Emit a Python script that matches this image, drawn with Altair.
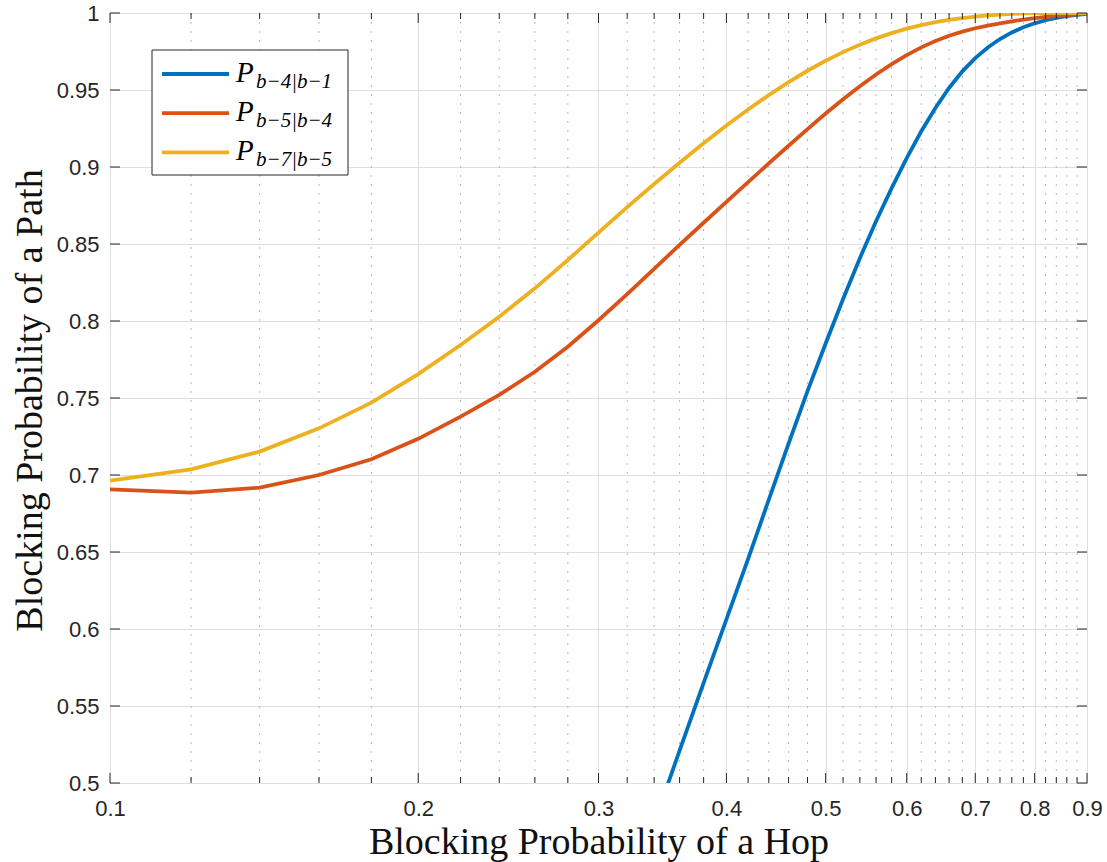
import altair as alt
import pandas as pd

# Hop blocking probability grid (step 0.02)
hop = [0.10, 0.12, 0.14, 0.16, 0.18, 0.20, 0.22, 0.24, 0.26, 0.28,
       0.30, 0.32, 0.34, 0.36, 0.38, 0.40, 0.42, 0.44, 0.46, 0.48,
       0.50, 0.52, 0.54, 0.56, 0.58, 0.60, 0.62, 0.64, 0.66, 0.68,
       0.70, 0.72, 0.74, 0.76, 0.78, 0.80, 0.82, 0.84, 0.86, 0.88, 0.90]

# P_{b-4|b-1}: only computed from 0.34 upward
hop_b4_b1 = hop[12:]
p_b4_b1 = [0.474, 0.521, 0.565, 0.6063, 0.6455, 0.684, 0.7204, 0.7544, 0.7854, 0.8143,
           0.8408, 0.8648, 0.8863, 0.9058, 0.9232, 0.9383, 0.9513, 0.9621, 0.9707, 0.9776,
           0.9831, 0.9874, 0.9907, 0.9933, 0.9953, 0.9968, 0.9979, 0.9988, 0.9995]

# P_{b-5|b-4}
p_b5_b4 = [0.6907, 0.6885, 0.6918, 0.7000, 0.7102, 0.7235, 0.7379, 0.7520, 0.7670, 0.7833,
           0.8005, 0.8174, 0.8339, 0.8494, 0.8638, 0.8774, 0.8902, 0.9023, 0.9138, 0.9246,
           0.9347, 0.9440, 0.9525, 0.9601, 0.9668, 0.9727, 0.9777, 0.9818, 0.9852, 0.9879,
           0.9901, 0.9918, 0.9933, 0.9946, 0.9957, 0.9966, 0.9974, 0.9981, 0.9987, 0.9992, 0.9997]

# P_{b-7|b-5}
p_b7_b5 = [0.6963, 0.7037, 0.7152, 0.7303, 0.7470, 0.7655, 0.7844, 0.8028, 0.8212, 0.8396,
           0.8574, 0.8739, 0.8890, 0.9028, 0.9154, 0.9269, 0.9373, 0.9467, 0.9551, 0.9625,
           0.9690, 0.9746, 0.9794, 0.9835, 0.9869, 0.9898, 0.9921, 0.9940, 0.9955, 0.9967,
           0.9977, 0.9984, 0.9990, 0.9994, 0.9997, 0.9999, 0.9999, 1.0, 1.0, 1.0, 1.0]

series_sub = ["b\u22124|b\u22121", "b\u22125|b\u22124", "b\u22127|b\u22125"]
series_colors = ["#0072BD", "#D95319", "#EDB120"]
series_x = [hop_b4_b1, hop, hop]
series_y = [p_b4_b1, p_b5_b4, p_b7_b5]

x_major = [0.1, 0.2, 0.3, 0.4, 0.5, 0.6, 0.7, 0.8, 0.9]
y_major = [0.5, 0.55, 0.6, 0.65, 0.7, 0.75, 0.8, 0.85, 0.9, 0.95, 1.0]
x_minor = [v for v in hop if round(v * 10, 6) != round(v * 10)]

W, H = 977, 770
AXIS_COLOR = "#262626"
LINE_W = 3.8

xscale = alt.Scale(type="log", domain=[0.1, 0.9], nice=False)
yscale = alt.Scale(domain=[0.5, 1.0], nice=False, zero=False)

x_axis = alt.Axis(
    values=x_major, labelExpr="format(datum.value, '~g')",
    title="Blocking Probability of a Hop",
    grid=True, gridColor="#dfdfdf", gridWidth=1,
    ticks=False, tickSize=0, domain=False,
    labelFont="Liberation Sans", labelFontSize=22, labelColor=AXIS_COLOR,
    labelPadding=15, labelOverlap=False, labelFlush=False,
    titleFont="Liberation Serif", titleFontSize=38, titleFontWeight="normal",
    titleColor="#111111", titleX=W / 2, titleY=70,
    titleBaseline="alphabetic", titleAlign="center",
)
y_axis = alt.Axis(
    values=y_major, labelExpr="format(datum.value, '~g')",
    title="Blocking Probability of a Path",
    grid=True, gridColor="#dfdfdf", gridWidth=1,
    ticks=False, tickSize=0, domain=False,
    labelFont="Liberation Sans", labelFontSize=22, labelColor=AXIS_COLOR,
    labelPadding=11, labelOverlap=False, labelFlush=False,
    titleFont="Liberation Serif", titleFontSize=38, titleFontWeight="normal",
    titleColor="#111111", titleAngle=270, titleX=-69, titleY=H / 2 + 2,
    titleBaseline="alphabetic", titleAlign="center",
)

def X(field):
    return alt.X(f"{field}:Q", scale=xscale, axis=x_axis)

def Y(field):
    return alt.Y(f"{field}:Q", scale=yscale, axis=y_axis)

major_df = pd.DataFrame({"v": x_major})
minor_df = pd.DataFrame({"v": x_minor})
ymaj_df = pd.DataFrame({"v": y_major})
one = pd.DataFrame({"a": [0]})

# dotted minor grid on x
minor_grid = alt.Chart(minor_df).mark_rule(
    color="#b8b8b8", strokeWidth=1, strokeDash=[2, 7]
).encode(x=X("v"), y=alt.value(0), y2=alt.value(H))

# curves
curves = []
for xs, ys, col in zip(series_x, series_y, series_colors):
    df = pd.DataFrame({"hop": xs, "path": ys})
    curves.append(
        alt.Chart(df).mark_line(color=col, strokeWidth=LINE_W, clip=True).encode(
            x=X("hop"), y=Y("path")
        )
    )

# inward ticks on all four sides
def xticks(df, y0, y1):
    return alt.Chart(df).mark_rule(color=AXIS_COLOR, strokeWidth=1).encode(
        x=X("v"), y=alt.value(y0), y2=alt.value(y1)
    )

def yticks(x0, x1):
    return alt.Chart(ymaj_df).mark_rule(color=AXIS_COLOR, strokeWidth=1).encode(
        y=Y("v"), x=alt.value(x0), x2=alt.value(x1)
    )

ticks = [
    xticks(major_df, H, H - 10), xticks(major_df, 0, 10),
    xticks(minor_df, H, H - 6), xticks(minor_df, 0, 6),
    yticks(0, 10), yticks(W, W - 10),
]

# legend box
LX0, LX1, LY0, LY1 = 42, 238, 37, 162
legend_layers = [
    alt.Chart(one).mark_rect(fill="white", stroke=AXIS_COLOR, strokeWidth=1).encode(
        x=alt.value(LX0), x2=alt.value(LX1), y=alt.value(LY0), y2=alt.value(LY1)
    )
]
for i, (sub, col) in enumerate(zip(series_sub, series_colors)):
    cy = 61 + 39.2 * i
    legend_layers.append(
        alt.Chart(one).mark_rule(color=col, strokeWidth=LINE_W).encode(
            x=alt.value(52), x2=alt.value(119), y=alt.value(cy)
        )
    )
    legend_layers.append(
        alt.Chart(one).mark_text(
            text="P", font="Liberation Serif", fontStyle="italic", fontSize=29,
            align="left", baseline="alphabetic", color="#000000",
        ).encode(x=alt.value(126), y=alt.value(cy + 8))
    )
    legend_layers.append(
        alt.Chart(one).mark_text(
            text=sub, font="Liberation Serif", fontStyle="italic", fontSize=21,
            align="left", baseline="alphabetic", color="#000000",
        ).encode(x=alt.value(146), y=alt.value(cy + 14))
    )

chart = alt.layer(minor_grid, *curves, *ticks, *legend_layers).properties(
    width=W, height=H,
    autosize=alt.AutoSizeParams(type="none"),
    padding={"left": 110, "top": 13, "right": 20, "bottom": 79},
    background="white",
).configure_view(stroke="#404040", strokeWidth=1)

chart.save("out.html", embed_options={"renderer": "svg", "actions": False})
